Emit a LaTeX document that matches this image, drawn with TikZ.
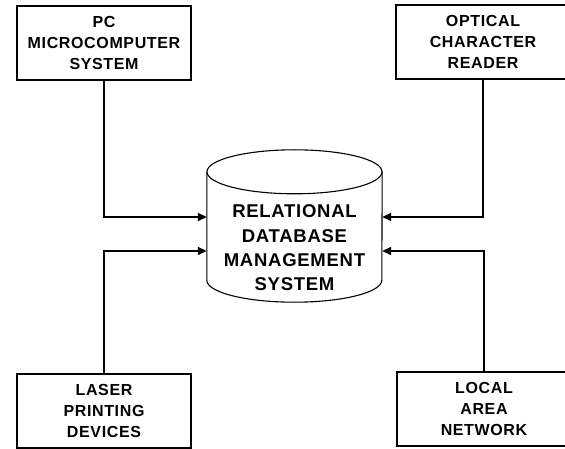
\documentclass[tikz,border=0pt]{standalone}
\usepackage{fontspec}
\setmainfont{Liberation Sans}[LetterSpace=4]
\usetikzlibrary{arrows.meta,shapes.geometric}

\begin{document}
\begin{tikzpicture}[x=1pt, y=-1pt,
  box/.style={draw, line width=1.1pt, minimum width=174pt, minimum height=74pt, align=center, font=\bfseries\fontsize{16}{21}\selectfont},
  dbase/.style={minimum width=175pt, minimum height=108pt, inner sep=0pt, align=center, font=\bfseries\fontsize{18.5}{24.3}\selectfont},
  dbline/.style={line width=1.1pt},
  arrow/.style={-{Triangle[length=9pt,width=8pt]}, line width=1.5pt}
]
\useasboundingbox (0,0) rectangle (565,449);
\node[dbase] (rdb) at (294.5,248) {RELATIONAL\\DATABASE\\MANAGEMENT\\SYSTEM};
% cylinder outline round the node
\draw[dbline] ([yshift=22pt]rdb.north) ellipse [x radius=87.5pt, y radius=22pt];
\draw[dbline] ([yshift=22pt]rdb.north west) -- ([yshift=22pt]rdb.south west)
  arc[start angle=180, end angle=360, x radius=87.5pt, y radius=22pt] -- ([yshift=22pt]rdb.north east);
\node[box] (pc) at (104,43) {PC\\MICROCOMPUTER\\SYSTEM};
\node[box] (ocr) at (483,42) {OPTICAL\\CHARACTER\\READER};
\node[box] (laser) at (104,411) {LASER\\PRINTING\\DEVICES};
\node[box] (lan) at (484,409) {LOCAL\\AREA\\NETWORK};
\draw[arrow] (pc.south) |- ([yshift=31pt]rdb.west);
\draw[arrow] (ocr.south) |- ([yshift=31pt]rdb.east);
\draw[arrow] (laser.north) |- ([yshift=-3pt]rdb.west);
\draw[arrow] (lan.north) |- ([yshift=-3pt]rdb.east);
\end{tikzpicture}
\end{document}
